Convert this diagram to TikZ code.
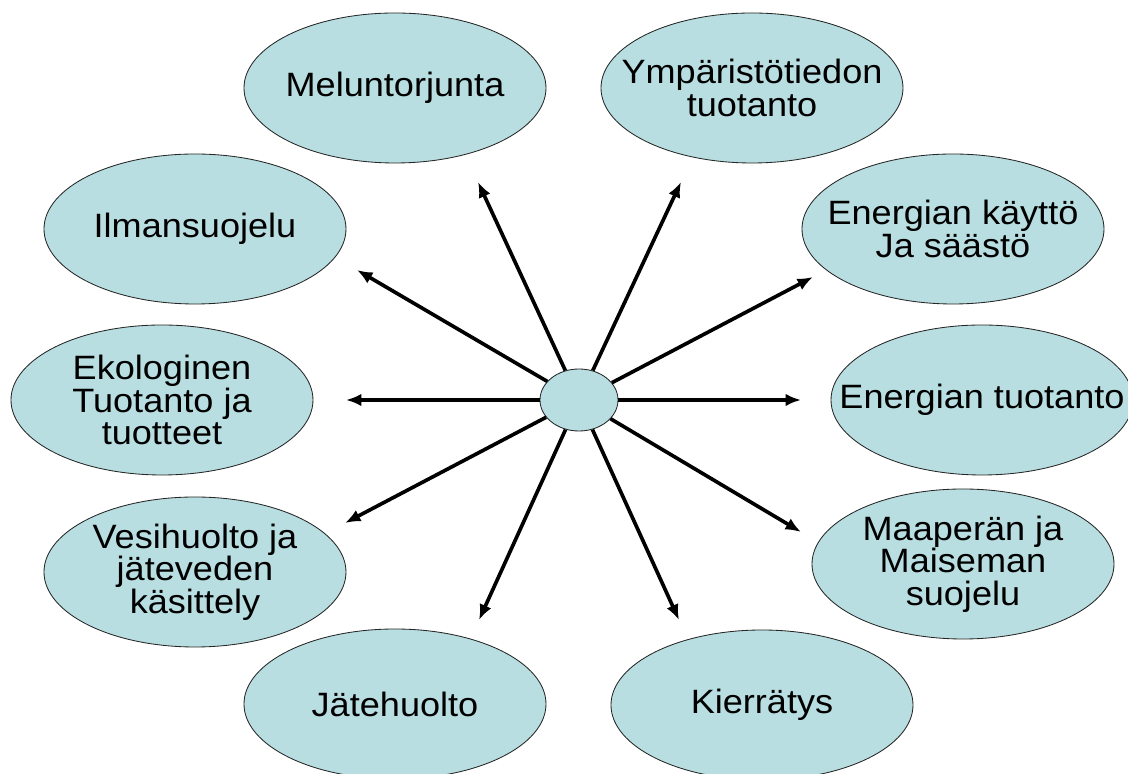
\documentclass[tikz,border=0pt]{standalone}
\usepackage{fontspec}
\setmainfont{Liberation Sans}[FakeStretch=1.07]
\usetikzlibrary{shapes.geometric}
\usetikzlibrary{arrows.meta}
\definecolor{turkoosi}{RGB}{184,222,225}

\begin{document}
\begin{tikzpicture}
  % Definimos los estilos para las elipses y las flechas
  \tikzstyle{tema} = [draw=black!85, line width=0.6pt, fill=turkoosi, ellipse, minimum width=7.55cm, minimum height=3.75cm, inner xsep=-1.2cm, inner ysep=0pt, align=center, font=\fontsize{24}{23}\selectfont];
  \tikzstyle{centro} = [draw=black!85, line width=0.6pt, fill=turkoosi, ellipse, minimum width=1.95cm, minimum height=1.55cm];
  \tikzstyle{flecha} = [line width=2.6pt, -{Latex[length=11pt,width=9pt]}];

  % Marco de la figura
  \useasboundingbox (-14.475,-9.35) rectangle (13.725,10);

  % Elipse central
  \node [centro] (hub) at (0,0) {};

  % Las diez elipses alrededor
  \node [tema] (melu) at (-4.6,7.8) {Meluntorjunta};
  \node [tema] (ympa) at (4.325,7.8) {Ympäristötiedon\\tuotanto};
  \node [tema] (ilma) at (-9.6,4.275) {Ilmansuojelu};
  \node [tema] (kaytto) at (9.35,4.275) {Energian käyttö\\Ja säästö};
  \node [tema] (eko) at (-10.425,0) {Ekologinen\\Tuotanto ja\\tuotteet};
  \node [tema] (entuo) at (10.075,0) {Energian tuotanto};
  \node [tema] (vesi) at (-9.6,-4.3) {Vesihuolto ja\\jäteveden\\käsittely};
  \node [tema] (maa) at (9.6,-4.1) {Maaperän ja\\Maiseman\\suojelu};
  \node [tema] (jate) at (-4.6,-7.6) {Jätehuolto};
  \node [tema] (kier) at (4.575,-7.625) {Kierrätys};

  % Puntas de las flechas
  \coordinate (pmelu) at (-2.525,5.45);
  \coordinate (pympa) at (2.55,5.45);
  \coordinate (pilma) at (-5.55,3.25);
  \coordinate (pkaytto) at (5.85,3.075);
  \coordinate (peko) at (-5.825,0);
  \coordinate (pentuo) at (5.55,0);
  \coordinate (pvesi) at (-5.85,-3.075);
  \coordinate (pmaa) at (5.55,-3.3);
  \coordinate (pjate) at (-2.5,-5.5);
  \coordinate (pkier) at (2.5,-5.5);

  % Flechas desde el centro
  \foreach \p in {pmelu,pympa,pilma,pkaytto,peko,pentuo,pvesi,pmaa,pjate,pkier}
    \draw [flecha] (hub) -- (\p);
\end{tikzpicture}
\end{document}
